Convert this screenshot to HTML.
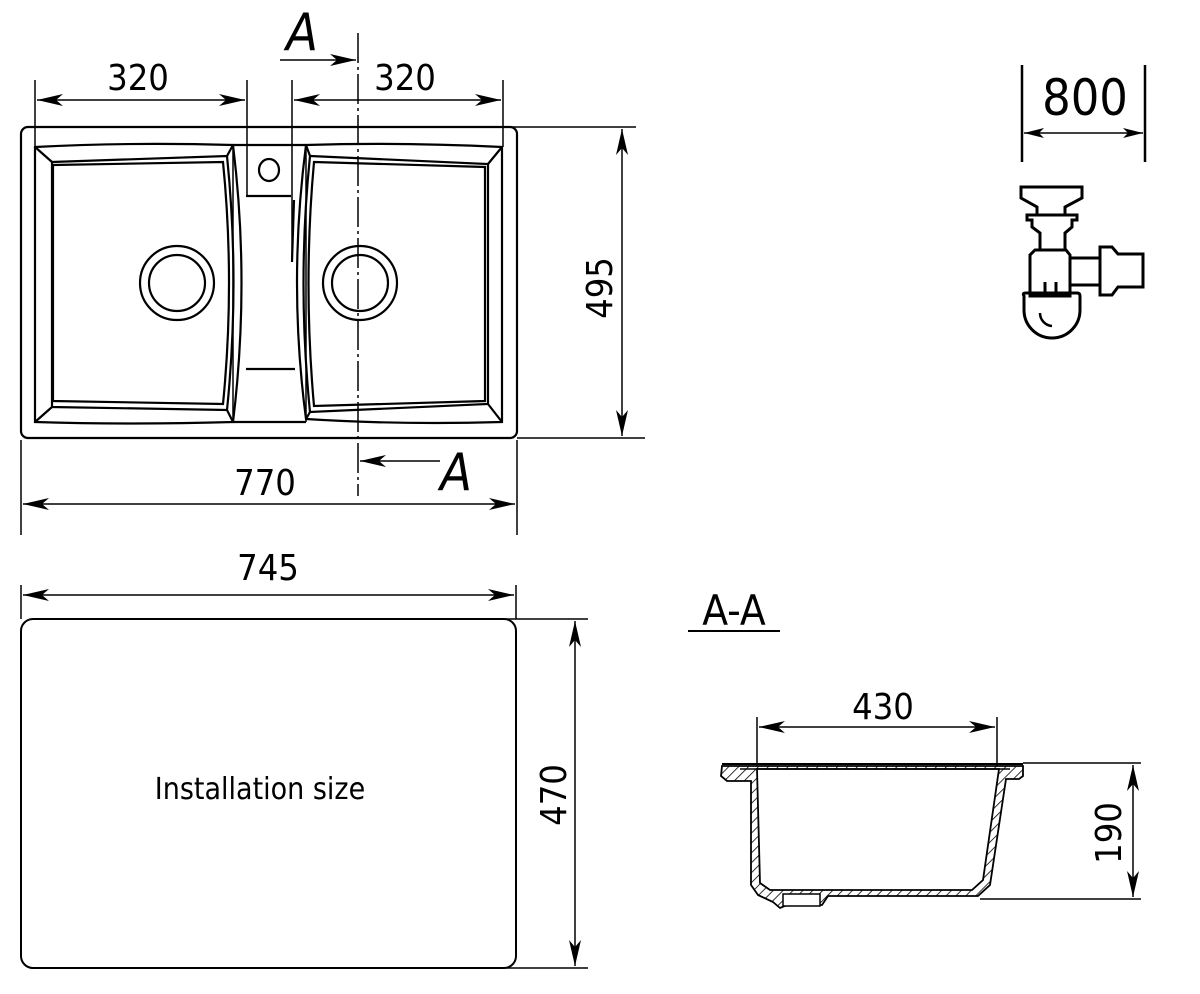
<!DOCTYPE html>
<html><head><meta charset="utf-8"><style>
html,body{margin:0;padding:0;background:#fff;}
svg{display:block;}
text{font-family:"DejaVu Sans Condensed","Liberation Sans Narrow","Liberation Sans",sans-serif;fill:#000;}
</style></head><body>
<svg width="1200" height="994" viewBox="0 0 1200 994" xmlns="http://www.w3.org/2000/svg">
<defs>
<marker id="ar" viewBox="0 0 26 12" refX="26" refY="6" markerWidth="26" markerHeight="12" markerUnits="userSpaceOnUse" orient="auto-start-reverse">
<path d="M0,0 L26,6 L0,12 L7,6 Z" fill="#000"/>
</marker>
<marker id="ars" viewBox="0 0 20 10" refX="20" refY="5" markerWidth="20" markerHeight="10" markerUnits="userSpaceOnUse" orient="auto-start-reverse">
<path d="M0,0 L20,5 L0,10 L5,5 Z" fill="#000"/>
</marker>
<pattern id="hatch" patternUnits="userSpaceOnUse" width="7" height="7" patternTransform="rotate(45)">
<rect width="7" height="7" fill="#fff"/><line x1="0" y1="0" x2="0" y2="7" stroke="#000" stroke-width="1.6"/>
</pattern>
</defs>
<g fill="none" stroke="#000" stroke-width="2.2">
<rect x="21" y="127" width="496" height="311" rx="7"/>
<!-- left bowl -->
<path d="M35,147 Q130,142 233,145 Q250,283 233,422 Q130,425 35,422 Z"/>
<path d="M52,162 L227,156 Q240,283 227,410 L52,407 Z"/>
<path d="M53,165 L223,162 Q235,283 223,404 L53,401 Z"/>
<line x1="35" y1="147" x2="52" y2="162"/><line x1="35" y1="422" x2="52" y2="407"/>
<line x1="233" y1="145" x2="227" y2="156"/><line x1="233" y1="422" x2="227" y2="410"/>
<!-- right bowl -->
<path d="M306,145 Q400,142 502,147 L502,422 Q400,425 306,419 Q288,283 306,145 Z"/>
<path d="M310,156 L488,164 L488,404 L310,412 Q297,283 310,156 Z"/>
<path d="M314,162 L485,167 L485,401 L314,406 Q303,283 314,162 Z"/>
<line x1="502" y1="147" x2="488" y2="164"/><line x1="502" y1="422" x2="488" y2="404"/>
<line x1="306" y1="145" x2="310" y2="156"/><line x1="306" y1="419" x2="310" y2="412"/>
<!-- middle -->
<line x1="233" y1="145" x2="306" y2="145"/>
<line x1="233" y1="422" x2="306" y2="422"/>
<line x1="233" y1="145" x2="233" y2="422" stroke-width="1.5"/>
<line x1="306" y1="145" x2="306" y2="422" stroke-width="1.5"/>
<ellipse cx="269" cy="170" rx="10" ry="11"/>
<line x1="246" y1="196" x2="291" y2="196"/>
<line x1="246" y1="369" x2="295" y2="369"/>
<line x1="294" y1="200" x2="292" y2="262"/>
<circle cx="177" cy="283" r="37"/><circle cx="177" cy="283" r="28"/>
<circle cx="360" cy="283" r="37"/><circle cx="360" cy="283" r="28"/>
</g>
<g fill="none" stroke="#000" stroke-width="1.5">
<line x1="358" y1="33" x2="358" y2="496" stroke-dasharray="30,4,3,4"/>
<line x1="35" y1="80" x2="35" y2="147"/>
<line x1="247" y1="80" x2="247" y2="196"/>
<line x1="292" y1="80" x2="292" y2="262"/>
<line x1="503" y1="80" x2="503" y2="147"/>
<line x1="21" y1="440" x2="21" y2="535"/>
<line x1="517" y1="440" x2="517" y2="535"/>
<line x1="497" y1="127" x2="636" y2="127"/>
<line x1="517" y1="438" x2="645" y2="438"/>
<line x1="37" y1="100" x2="245" y2="100" marker-start="url(#ar)" marker-end="url(#ar)"/>
<line x1="294" y1="100" x2="501" y2="100" marker-start="url(#ar)" marker-end="url(#ar)"/>
<line x1="23" y1="504" x2="515" y2="504" marker-start="url(#ar)" marker-end="url(#ar)"/>
<line x1="622" y1="129" x2="622" y2="436" marker-start="url(#ar)" marker-end="url(#ar)"/>
<line x1="280" y1="60" x2="356" y2="60" marker-end="url(#ar)"/>
<line x1="440" y1="461" x2="360" y2="461" marker-end="url(#ar)"/>
<line x1="21" y1="585" x2="21" y2="619"/>
<line x1="516" y1="585" x2="516" y2="619"/>
<line x1="23" y1="595" x2="514" y2="595" marker-start="url(#ar)" marker-end="url(#ar)"/>
<line x1="505" y1="619" x2="588" y2="619"/>
<line x1="505" y1="968" x2="588" y2="968"/>
<line x1="575" y1="621" x2="575" y2="966" marker-start="url(#ar)" marker-end="url(#ar)"/>
<line x1="1024" y1="133" x2="1143" y2="133" marker-start="url(#ars)" marker-end="url(#ars)"/>
<line x1="757" y1="717" x2="757" y2="767"/>
<line x1="997" y1="717" x2="997" y2="767"/>
<line x1="759" y1="727" x2="995" y2="727" marker-start="url(#ar)" marker-end="url(#ar)"/>
<line x1="1023" y1="763" x2="1141" y2="763"/>
<line x1="980" y1="899" x2="1141" y2="899"/>
<line x1="1133" y1="765" x2="1133" y2="897" marker-start="url(#ar)" marker-end="url(#ar)"/>
<line x1="688" y1="631" x2="780" y2="631" stroke-width="2"/>
</g>
<rect x="21" y="619" width="495" height="349" rx="12" fill="none" stroke="#000" stroke-width="2"/>
<g stroke="#000" stroke-width="2.5" fill="none">
<line x1="1022" y1="65" x2="1022" y2="162"/>
<line x1="1145" y1="65" x2="1145" y2="162"/>
</g>
<g fill="none" stroke="#000" stroke-width="3" stroke-linejoin="miter">
<path d="M1021,187 H1082 V198 L1065,207 V215 H1037 V207 L1021,198 Z"/>
<path d="M1027,215 H1077 V220 H1072 V227 L1065,233 V250 H1040 V233 L1032,227 V220 H1027 Z"/>
<path d="M1035,250 H1066 L1070,255 V296 H1030 V255 Z"/>
<path d="M1070,258 H1100 V285 H1070"/>
<path d="M1100,247 H1112 L1118,254 H1143 V287 H1118 L1112,295 H1100 Z"/>
<path d="M1024,296 Q1022,293 1026,293 H1077 Q1080,293 1080,296 V310 A28,28 0 0 1 1024,310 Z"/>
<path d="M1045,282 V293 M1056,282 V293"/>
<path d="M1040,313 A13,13 0 0 0 1052,326" stroke-width="2.5"/>
</g>
<!-- section -->
<g stroke="#000" stroke-width="1.8">
<path fill-rule="evenodd" fill="url(#hatch)" d="M722,766 H1023 V776 L1019,779 H1006 L990,885 L978,896 H828 L822,905 H787 L780,908 L773,902 L758,895 L751,885 V781 H727 L721,776 Z M757,769 H999 L983,880 L972,890 H770 L760,883 Z"/>
<rect x="783" y="894" width="37" height="12" fill="#fff" stroke-width="1.5"/>
<path d="M740,769 H1010" fill="none" stroke-width="1.5"/>
</g>
<line x1="722" y1="764" x2="1023" y2="764" stroke="#000" stroke-width="2"/>
<g font-size="36">
<text x="138" y="90" text-anchor="middle">320</text>
<text x="405" y="90" text-anchor="middle">320</text>
<text x="265" y="495" text-anchor="middle">770</text>
<text x="268" y="580" text-anchor="middle">745</text>
<text x="883" y="719" text-anchor="middle">430</text>
<text transform="translate(612,288) rotate(-90)" text-anchor="middle">495</text>
<text transform="translate(566,795) rotate(-90)" text-anchor="middle">470</text>
<text transform="translate(1121,833) rotate(-90)" text-anchor="middle">190</text>
</g>
<text x="1085" y="115" font-size="50" text-anchor="middle">800</text>
<text x="734" y="625" font-size="42" text-anchor="middle">A-A</text>
<text x="302" y="50" font-size="52" font-style="italic" text-anchor="middle">A</text>
<text x="456" y="490" font-size="52" font-style="italic" text-anchor="middle">A</text>
<text x="260" y="799" font-size="30" text-anchor="middle">Installation size</text>
</svg>
</body></html>
